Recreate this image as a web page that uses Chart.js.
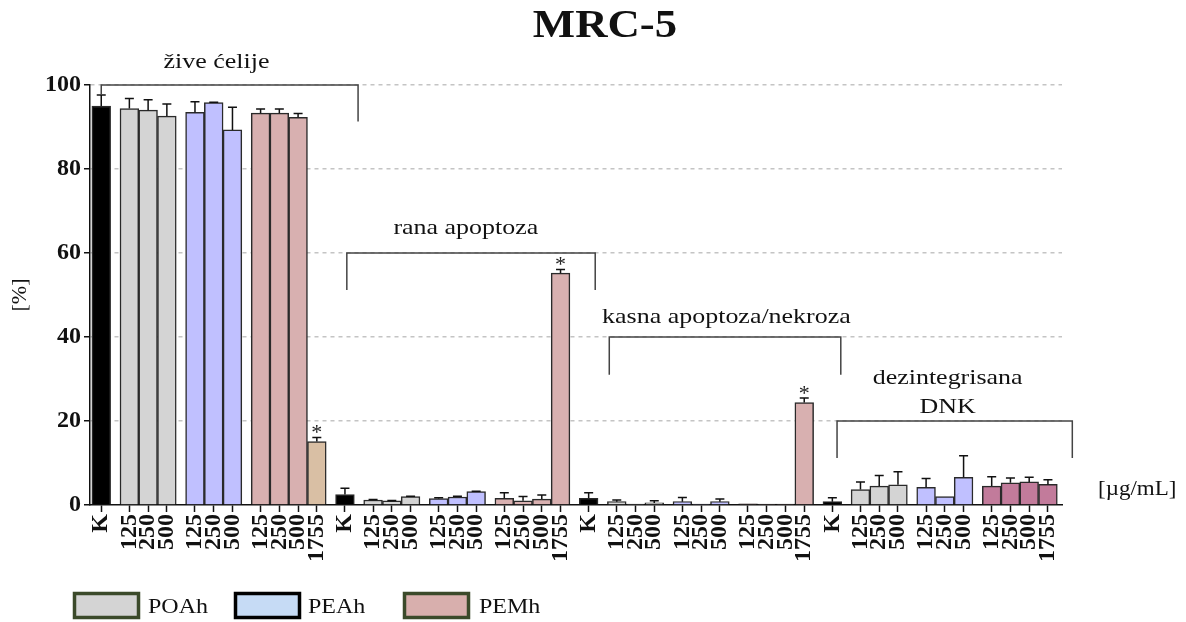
<!DOCTYPE html>
<html>
<head>
<meta charset="utf-8">
<script src="https://cdn.jsdelivr.net/npm/chart.js@4.4.0/dist/chart.umd.min.js"></script>
<style>
  html, body { margin: 0; padding: 0; background: #fff; }
  #wrap { width: 1186px; height: 622px; }
</style>
</head>
<body>
<div id="wrap"><canvas id="c" width="1186" height="622"></canvas></div>
<script>
'use strict';

// ---- podaci (procenat ćelija) ----
const groups = ['žive ćelije', 'rana apoptoza', 'kasna apoptoza/nekroza', 'dezintegrisana DNK'];
const doses = ['125', '250', '500'];
const dosesPEMh = ['125', '250', '500', '1755'];

const kVals = [95.0, 2.5, 1.6, 0.8];
const kErr  = [2.6, 1.5, 1.3, 0.9];

const poahVals = [94.4, 94.0, 92.6,  1.2, 1.0, 2.0,  0.8, 0.2, 0.5,  3.7, 4.5, 4.8];
const poahErr  = [2.4, 2.5, 2.9,  0.1, 0.1, 0.1,  0.4, 0.0, 0.5,  1.8, 2.5, 3.1];

const peahVals = [93.5, 95.8, 89.3,  1.5, 1.9, 3.2,  0.8, 0.2, 0.8,  4.2, 2.0, 6.6];
const peahErr  = [2.5, 0.1, 5.4,  0.2, 0.2, 0.1,  1.0, 0.0, 0.6,  2.1, 0.0, 5.1];

const pemhVals = [93.3, 93.3, 92.3, 15.1,  1.6, 1.0, 1.4, 55.2,  0.3, 0.2, 0.2, 24.4,  4.5, 5.3, 5.5, 4.9];
const pemhErr  = [1.0, 1.0, 0.9, 1.0,  1.3, 1.0, 1.0, 0.9,  0.0, 0.0, 0.0, 1.1,  2.2, 1.1, 1.1, 1.1];
const starred  = [3, 7, 11];   // PEMh 1755 sa značajnom razlikom (*)

// zagrade iznad grupa, u jedinicama x ose / procentima
const bracketX = [[1, 28.4], [27.2, 53.7], [55.2, 79.9], [79.5, 104.6]];
const bracketY = [100, 60, 40, 20];
const legL = [97.6, 51.2, 31, 11.2];
const legR = [91.3, 51.2, 31, 11.2];
const labelX = [13.3, 39.9, 67.7, 91.3];
const labelLines = [['žive ćelije'], ['rana apoptoza'], ['kasna apoptoza/nekroza'], ['dezintegrisana', 'DNK']];
const labelY = [[105.5], [66], [44.8], [30.2, 23.3]];

// ---- raspored na x osi: svaka grupa = K, POAh x3, PEAh x3, PEMh x4 ----
const SERIF = "'Liberation Serif', 'DejaVu Serif', serif";
const CL = 26;
const posK = g => g * CL + 1;
const posP = g => i => g * CL + 4 + 2 * i;
const posE = g => i => g * CL + 11 + 2 * i;
const posM = g => i => g * CL + 18 + 2 * i;

const tickPos = [], tickLbl = [];
const dK = [], dP = [], dE = [], dM = [], cM = [];
groups.forEach((_, g) => {
  dK.push({ x: posK(g), y: kVals[g] }); tickPos.push(posK(g)); tickLbl.push('K');
  doses.forEach((d, i) => { dP.push({ x: posP(g)(i), y: poahVals[g * 3 + i] }); tickPos.push(posP(g)(i)); tickLbl.push(d); });
  doses.forEach((d, i) => { dE.push({ x: posE(g)(i), y: peahVals[g * 3 + i] }); tickPos.push(posE(g)(i)); tickLbl.push(d); });
  dosesPEMh.forEach((d, i) => {
    dM.push({ x: posM(g)(i), y: pemhVals[g * 4 + i] }); tickPos.push(posM(g)(i)); tickLbl.push(d);
    cM.push(g === 0 && i === 3 ? '#d9bfa4' : g === 3 ? '#c27b9b' : '#d8b0b0');
  });
});

function txt(ctx, s, x, y, font, align, sx) {
  ctx.save();
  ctx.font = font;
  ctx.fillStyle = '#111';
  ctx.textAlign = align || 'center';
  ctx.textBaseline = 'middle';
  ctx.translate(x, y);
  ctx.scale(sx || 1.18, 1);
  ctx.fillText(s, 0, 0);
  ctx.restore();
}

const overlay = {
  id: 'overlay',
  afterDatasetsDraw(chart) {
    const { ctx, scales: { y } } = chart;
    ctx.save();
    ctx.strokeStyle = '#111';
    ctx.lineWidth = 1.5;
    chart.data.datasets.forEach((ds, di) => {
      chart.getDatasetMeta(di).data.forEach((bar, i) => {
        const e = ds.err[i];
        if (!e) return;
        const top = y.getPixelForValue(ds.data[i].y + e);
        ctx.beginPath();
        ctx.moveTo(bar.x, bar.y);
        ctx.lineTo(bar.x, top);
        ctx.moveTo(bar.x - 4.5, top);
        ctx.lineTo(bar.x + 4.5, top);
        ctx.stroke();
      });
    });
    // zvezdice
    const mm = chart.getDatasetMeta(3);
    starred.forEach(i => {
      const top = y.getPixelForValue(pemhVals[i] + pemhErr[i]);
      ctx.font = '22px ' + SERIF;
      ctx.fillStyle = '#222';
      ctx.textAlign = 'center';
      ctx.textBaseline = 'alphabetic';
      ctx.fillText('*', mm.data[i].x, top + 2);
    });
    ctx.restore();
  },
  afterDraw(chart) {
    const { ctx, scales: { x, y } } = chart;
    // naslov
    txt(ctx, 'MRC-5', 605, 27, 'bold 40px ' + SERIF, 'center', 1.12);

    // zagrade
    ctx.save();
    ctx.strokeStyle = '#444';
    ctx.lineWidth = 1.5;
    bracketX.forEach((b, k) => {
      const x1 = x.getPixelForValue(b[0]), x2 = x.getPixelForValue(b[1]);
      const yt = y.getPixelForValue(bracketY[k]);
      ctx.beginPath();
      ctx.moveTo(x1, y.getPixelForValue(legL[k]));
      ctx.lineTo(x1, yt);
      ctx.lineTo(x2, yt);
      ctx.lineTo(x2, y.getPixelForValue(legR[k]));
      ctx.stroke();
    });
    ctx.restore();
    labelLines.forEach((lines, k) => {
      lines.forEach((s, j) => {
        txt(ctx, s, x.getPixelForValue(labelX[k]), y.getPixelForValue(labelY[k][j]), '22px ' + SERIF);
      });
    });

    // jedinica
    txt(ctx, '[µg/mL]', 1098, 490, '20px ' + SERIF, 'left', 1.15);

    // legenda
    const leg = [
      { t: 'POAh', fill: '#d4d4d4', stroke: '#3b4a2a', bx: 73, tx: 148 },
      { t: 'PEAh', fill: '#c6dbf5', stroke: '#000000', bx: 234, tx: 308 },
      { t: 'PEMh', fill: '#d8afad', stroke: '#3b4a2a', bx: 403, tx: 479 }
    ];
    leg.forEach(l => {
      ctx.save();
      ctx.fillStyle = l.fill;
      ctx.fillRect(l.bx, 592, 67, 27);
      ctx.strokeStyle = l.stroke;
      ctx.lineWidth = 3.5;
      ctx.strokeRect(l.bx + 1.5, 593.5, 64, 24);
      ctx.restore();
      txt(ctx, l.t, l.tx, 608, '20px ' + SERIF, 'left', 1.2);
    });
  }
};

new Chart(document.getElementById('c'), {
  type: 'bar',
  data: {
    datasets: [
      { label: 'K', data: dK, err: kErr, backgroundColor: '#000000' },
      { label: 'POAh', data: dP, err: poahErr, backgroundColor: '#d4d4d4' },
      { label: 'PEAh', data: dE, err: peahErr, backgroundColor: '#c0c0ff' },
      { label: 'PEMh', data: dM, err: pemhErr, backgroundColor: cM }
    ]
  },
  options: {
    responsive: false,
    animation: false,
    layout: { padding: { top: 85, right: 124, bottom: 0, left: 0 } },
    datasets: {
      bar: { grouped: false, categoryPercentage: 1, barPercentage: 1, borderWidth: 1.5, borderColor: '#2a2a2a' }
    },
    plugins: {
      legend: { display: false },
      tooltip: { enabled: false },
      title: { display: false }
    },
    scales: {
      x: {
        type: 'linear',
        offset: false,
        min: -0.2,
        max: 103.5,
        afterBuildTicks: s => { s.ticks = tickPos.map(v => ({ value: v })); },
        afterFit: s => { s.height = 117; },
        grid: { offset: false, drawOnChartArea: false, drawTicks: true, tickLength: 7, tickColor: '#111', tickWidth: 1.5 },
        border: { color: '#111', width: 1.5 },
        ticks: {
          autoSkip: false, maxRotation: 90, minRotation: 90, padding: 2, color: '#111',
          font: { family: SERIF, weight: 'bold', size: 24 },
          callback: (v, i) => tickLbl[i]
        }
      },
      y: {
        min: 0,
        max: 100,
        afterFit: s => { s.width = 90; },
        ticks: { stepSize: 20, padding: 3, color: '#111', font: { family: SERIF, weight: 'bold', size: 24 } },
        grid: {
          color: c => c.tick.value === 0 ? 'rgba(0,0,0,0)' : '#c4c4c4',
          lineWidth: 1.5, tickLength: 6, tickColor: '#111', tickWidth: 1.5
        },
        border: { color: '#111', width: 1.5, dash: [4, 4] },
        title: { display: true, text: '[%]', color: '#111', font: { family: SERIF, size: 22 }, padding: { top: 7, bottom: 0 } }
      }
    }
  },
  plugins: [overlay]
});
</script>
</body>
</html>
